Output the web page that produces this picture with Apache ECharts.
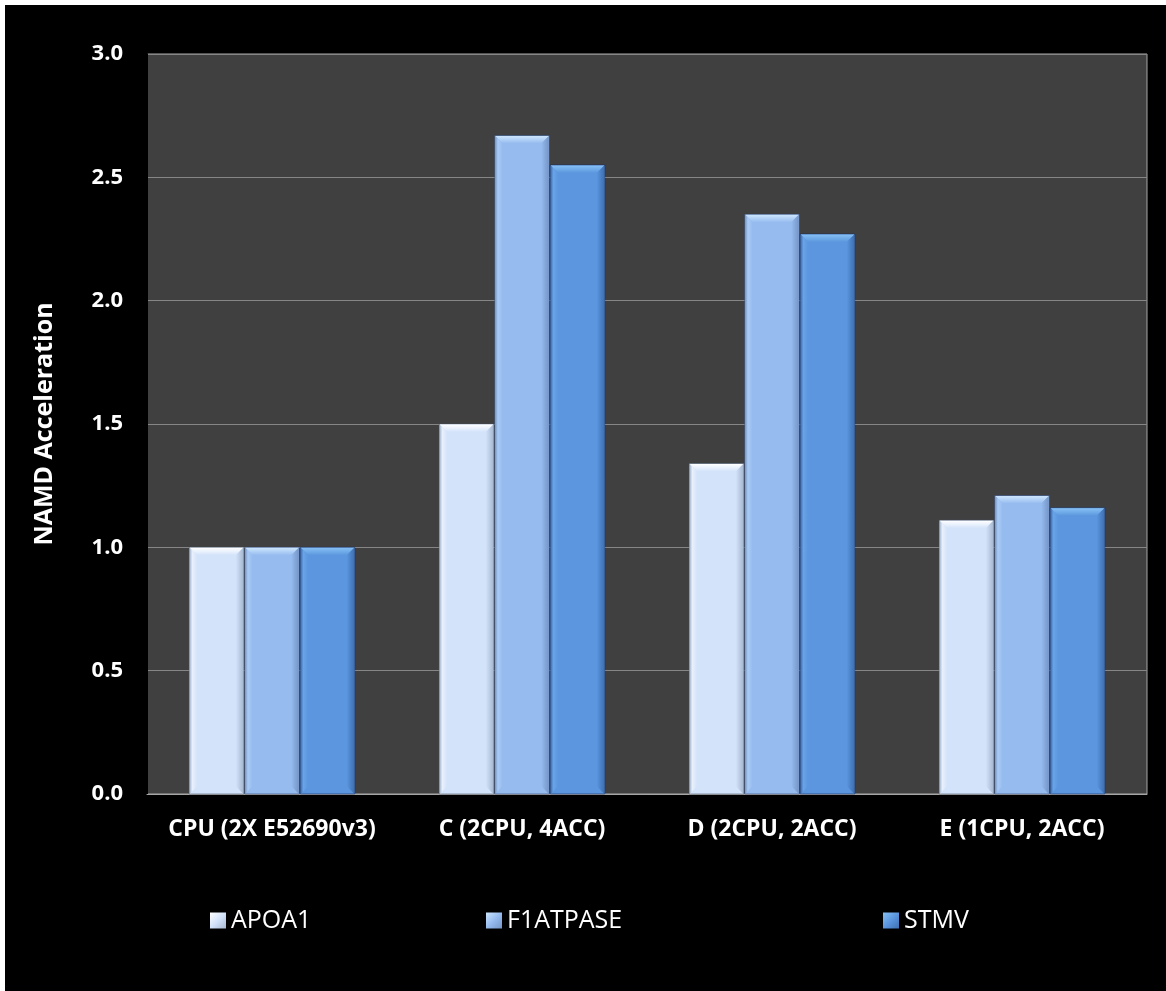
<!DOCTYPE html>
<html>
<head>
<meta charset="utf-8">
<script src="https://cdn.jsdelivr.net/npm/echarts@6/dist/echarts.min.js"></script>
<style>
html,body{margin:0;padding:0;background:#ffffff;width:1166px;height:991px;overflow:hidden;}
#chart{position:absolute;left:5px;top:5px;width:1161px;height:986px;background:#000000;}
</style>
</head>
<body>
<div id="chart"></div>
<script>
const categories = ['CPU (2X E52690v3)', 'C (2CPU, 4ACC)', 'D (2CPU, 2ACC)', 'E (1CPU, 2ACC)'];
const seriesNames = ['APOA1', 'F1ATPASE', 'STMV'];
const apoa1 = [1.00, 1.50, 1.34, 1.11];
const f1atpase = [1.00, 2.67, 2.35, 1.21];
const stmv = [1.00, 2.55, 2.27, 1.16];
const yMin = 0, yMax = 3.0, yStep = 0.5;

const palettes = [
  {body:'#d3e3fa', top:'#ffffff', left:'#e8f0fc', right:'#a7b8d2', edge:'rgba(70,80,100,0.55)'},
  {body:'#95bbef', top:'#cde6fd', left:'#aacbf4', right:'#7595c6', edge:'rgba(40,60,100,0.55)'},
  {body:'#5b96de', top:'#86c0f4', left:'#6aa4e8', right:'#3e6fb2', edge:'rgba(20,40,90,0.6)'}
];

function makeRender(idx){
  const p = palettes[idx];
  return function(params, api){
    const cat = api.value(0), v = api.value(1);
    const top = api.coord([cat, v]);
    const base = api.coord([cat, 0]);
    const band = api.size([1, 0])[0];
    const bw = band * 0.218, gap = band * 0.004;
    const cx = top[0] + (idx - 1) * (bw + gap);
    const x0 = cx - bw / 2, x1 = cx + bw / 2, y0 = top[1], y1 = base[1];
    const b = Math.min(8, (y1 - y0) / 2);
    return {
      type: 'group',
      children: [
        {type:'rect', shape:{x:x0, y:y0, width:bw, height:y1-y0}, style:{fill:p.body, stroke:p.edge, lineWidth:1}},
        {type:'polygon', shape:{points:[[x0+0.5,y0+0.5],[x1-0.5,y0+0.5],[x1-b,y0+b],[x0+b,y0+b]]},
          style:{fill:new echarts.graphic.LinearGradient(0,0,0,1,[{offset:0,color:p.top},{offset:1,color:p.body}])}},
        {type:'polygon', shape:{points:[[x0+0.5,y0+0.5],[x0+b,y0+b],[x0+b,y1-b],[x0+0.5,y1]]},
          style:{fill:new echarts.graphic.LinearGradient(0,0,1,0,[{offset:0,color:p.right},{offset:0.35,color:p.left},{offset:1,color:p.body}])}},
        {type:'polygon', shape:{points:[[x1-0.5,y0+0.5],[x1-0.5,y1],[x1-b,y1-b],[x1-b,y0+b]]},
          style:{fill:new echarts.graphic.LinearGradient(0,0,1,0,[{offset:0,color:p.body},{offset:1,color:p.right}])}}
      ]
    };
  };
}

const seriesData = [apoa1, f1atpase, stmv];
const chart = echarts.init(document.getElementById('chart'));
const legendLefts = [200, 476, 873];
chart.setOption({
  backgroundColor: '#000000',
  animation: false,
  grid: {left: 142, top: 49, width: 1000, height: 740, show: true, backgroundColor: '#404040', borderColor: '#a6a6a6', borderWidth: 1},
  xAxis: {
    type: 'category', data: categories,
    axisLine: {show: true, lineStyle: {color: '#a6a6a6'}},
    axisTick: {show: false},
    axisLabel: {color: '#ffffff', fontFamily: 'Open Sans', fontWeight: 'bold', fontSize: 23, margin: 24, interval: 0}
  },
  yAxis: {
    type: 'value', min: yMin, max: yMax, interval: yStep,
    name: 'NAMD Acceleration', nameLocation: 'middle', nameGap: 90, nameRotate: 90,
    nameTextStyle: {color: '#ffffff', fontFamily: 'Open Sans', fontWeight: 'bold', fontSize: 25},
    axisLine: {show: true, lineStyle: {color: '#000000', width: 2}},
    axisTick: {show: false},
    splitLine: {lineStyle: {color: '#868686', width: 1}},
    axisLabel: {color: '#ffffff', fontFamily: 'Open Sans', fontWeight: 'bold', fontSize: 22, margin: 24,
      formatter: v => v.toFixed(1)}
  },
  legend: seriesNames.map((n, i) => ({
    data: [{name: n, icon: 'rect', itemStyle: {color: new echarts.graphic.LinearGradient(0,0,1,1,[{offset:0,color:palettes[i].top},{offset:0.5,color:palettes[i].body},{offset:1,color:palettes[i].right}])}}],
    left: legendLefts[i], top: 898, itemWidth: 16, itemHeight: 16, itemGap: 8,
    textStyle: {color: '#ffffff', fontFamily: 'Open Sans', fontSize: 25}
  })),
  series: seriesNames.map((n, i) => ({
    name: n, type: 'custom',
    itemStyle: {color: palettes[i].body},
    renderItem: makeRender(i),
    encode: {x: 0, y: 1},
    data: categories.map((c, k) => [k, seriesData[i][k]])
  }))
});
</script>
</body>
</html>
